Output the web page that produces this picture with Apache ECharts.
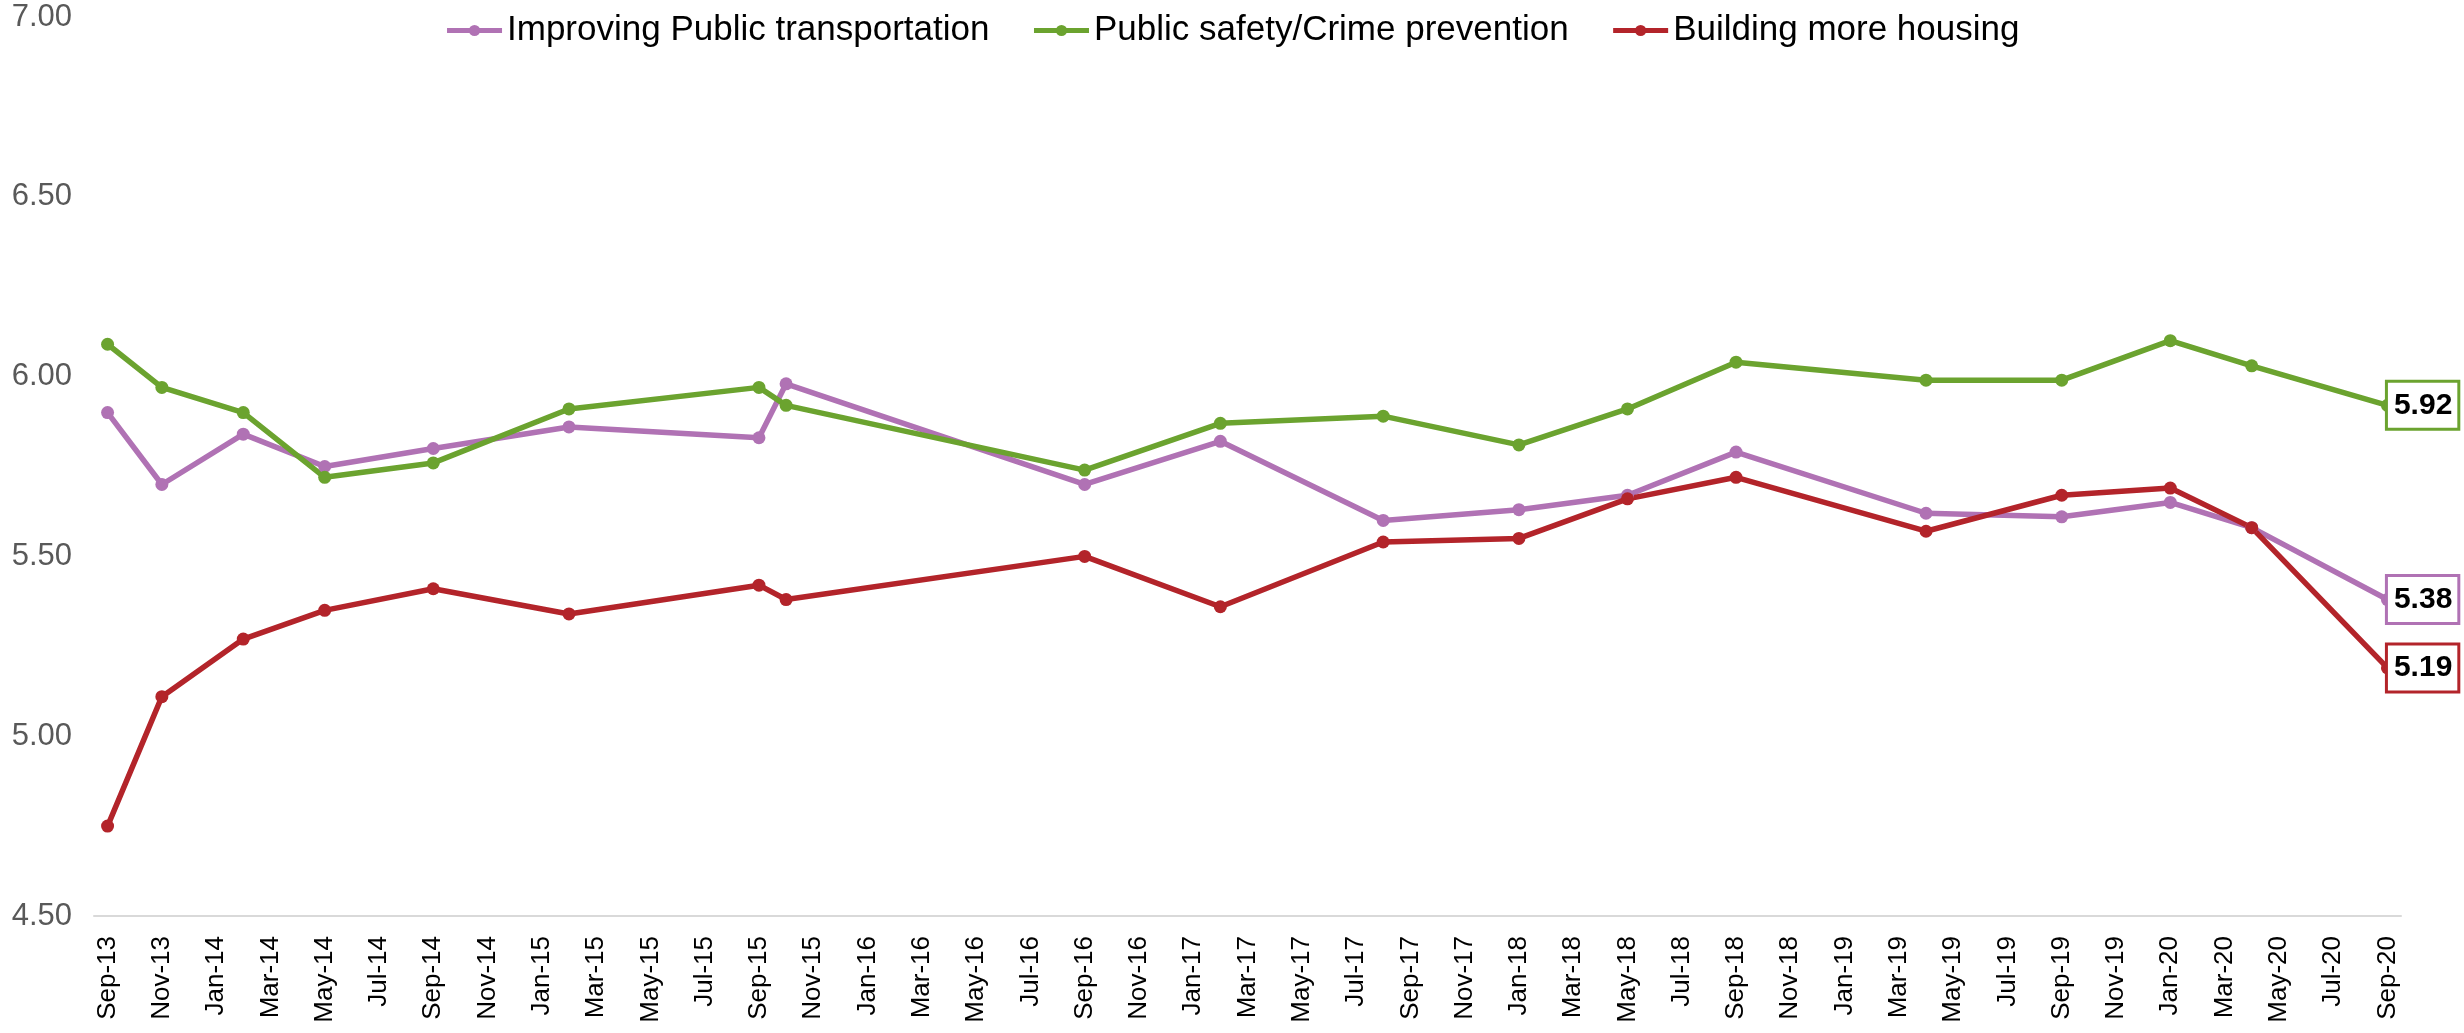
<!DOCTYPE html>
<html>
<head>
<meta charset="utf-8">
<script src="https://cdn.jsdelivr.net/npm/echarts@6/dist/echarts.min.js"></script>
<style>
html,body{margin:0;padding:0;background:#fff;}
#chart{width:2464px;height:1033px;}
</style>
</head>
<body>
<div id="chart"></div>
<script>
const months = [
 'Sep-13','Oct-13','Nov-13','Dec-13','Jan-14','Feb-14','Mar-14','Apr-14','May-14','Jun-14','Jul-14','Aug-14',
 'Sep-14','Oct-14','Nov-14','Dec-14','Jan-15','Feb-15','Mar-15','Apr-15','May-15','Jun-15','Jul-15','Aug-15',
 'Sep-15','Oct-15','Nov-15','Dec-15','Jan-16','Feb-16','Mar-16','Apr-16','May-16','Jun-16','Jul-16','Aug-16',
 'Sep-16','Oct-16','Nov-16','Dec-16','Jan-17','Feb-17','Mar-17','Apr-17','May-17','Jun-17','Jul-17','Aug-17',
 'Sep-17','Oct-17','Nov-17','Dec-17','Jan-18','Feb-18','Mar-18','Apr-18','May-18','Jun-18','Jul-18','Aug-18',
 'Sep-18','Oct-18','Nov-18','Dec-18','Jan-19','Feb-19','Mar-19','Apr-19','May-19','Jun-19','Jul-19','Aug-19',
 'Sep-19','Oct-19','Nov-19','Dec-19','Jan-20','Feb-20','Mar-20','Apr-20','May-20','Jun-20','Jul-20','Aug-20',
 'Sep-20'
];
const surveyDates = ['Sep-13','Nov-13','Feb-14','May-14','Sep-14','Feb-15','Sep-15','Oct-15','Sep-16','Feb-17',
 'Aug-17','Jan-18','May-18','Sep-18','Apr-19','Sep-19','Jan-20','Apr-20','Sep-20'];
const transport = [5.90,5.70,5.84,5.75,5.80,5.86,5.83,5.98,5.70,5.82,5.60,5.63,5.67,5.79,5.62,5.61,5.65,5.58,5.38];
const safety    = [6.09,5.97,5.90,5.72,5.76,5.91,5.97,5.92,5.74,5.87,5.89,5.81,5.91,6.04,5.99,5.99,6.10,6.03,5.92];
const housing   = [4.75,5.11,5.27,5.35,5.41,5.34,5.42,5.38,5.50,5.36,5.54,5.55,5.66,5.72,5.57,5.67,5.69,5.58,5.19];
const yTicks = [4.5, 5.0, 5.5, 6.0, 6.5, 7.0];

const seriesDefs = [
  {name:'Improving Public transportation', values: transport, color:'#B072B4'},
  {name:'Public safety/Crime prevention', values: safety, color:'#6BA32F'},
  {name:'Building more housing', values: housing, color:'#B3242A'}
];

const chart = echarts.init(document.getElementById('chart'), null, {renderer:'canvas'});
const FONT = "'Liberation Sans', Arial, sans-serif";

const series = seriesDefs.map(s => ({
  name: s.name,
  type: 'line',
  symbol: 'circle',
  symbolSize: 13,
  color: s.color,
  lineStyle: {width: 5.5, color: s.color},
  itemStyle: {color: s.color},
  emphasis: {disabled: true},
  data: surveyDates.map((d, i) => {
    const item = {value: [d, s.values[i]]};
    if (i === surveyDates.length - 1) {
      item.label = {
        show: true,
        position: 'right',
        distance: -6,
        formatter: p => p.value[1].toFixed(2),
        color: '#000',
        fontWeight: 'bold',
        fontSize: 30,
        fontFamily: FONT,
        backgroundColor: '#fff',
        borderColor: s.color,
        borderWidth: 3,
        padding: [9, 5, 6, 6]
      };
    }
    return item;
  })
}));

chart.setOption({
  animation: false,
  backgroundColor: '#fff',
  legend: {
    top: 8,
    left: 'center',
    itemWidth: 55,
    itemHeight: 14,
    itemGap: 42,
    lineStyle: {width: 5},
    textStyle: {fontSize: 35, color: '#000', fontFamily: FONT},
    data: seriesDefs.map(s => s.name)
  },
  grid: {left: 94, right: 63, top: 17, bottom: 117, containLabel: false},
  xAxis: {
    type: 'category',
    data: months,
    boundaryGap: true,
    axisLine: {show: true, lineStyle: {color: '#D9D9D9', width: 2}},
    axisTick: {show: false},
    axisLabel: {interval: 1, rotate: 90, margin: 20, fontSize: 26, color: '#000', fontFamily: FONT},
    splitLine: {show: false}
  },
  yAxis: {
    type: 'value',
    min: yTicks[0],
    max: yTicks[yTicks.length - 1],
    interval: 0.5,
    axisLine: {show: false},
    axisTick: {show: false},
    splitLine: {show: false},
    axisLabel: {
      formatter: v => v.toFixed(2),
      fontSize: 31,
      color: '#595959',
      fontFamily: FONT,
      margin: 22
    }
  },
  series: series
});
</script>
</body>
</html>
